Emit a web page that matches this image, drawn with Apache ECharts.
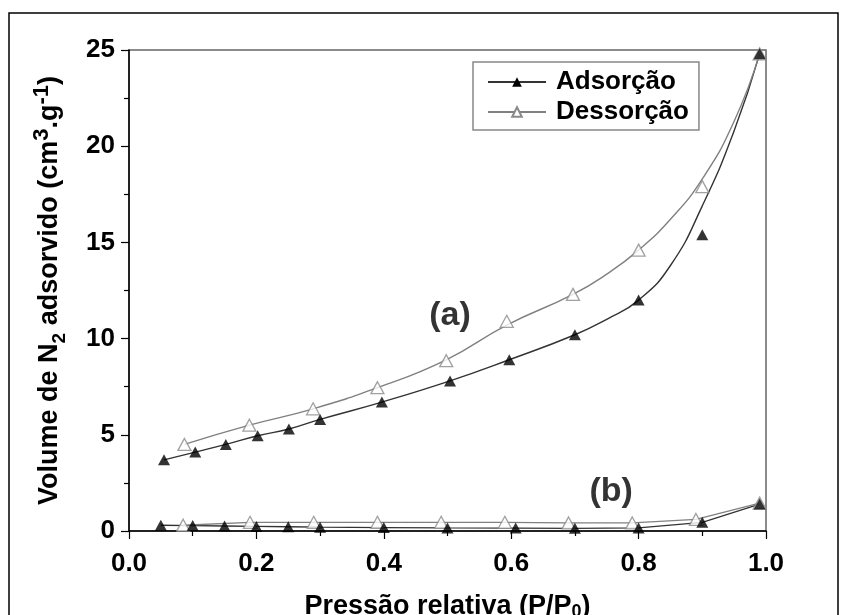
<!DOCTYPE html>
<html>
<head>
<meta charset="utf-8">
<script src="https://cdn.jsdelivr.net/npm/echarts@6/dist/echarts.min.js"></script>
<style>
  html, body { margin: 0; padding: 0; background: #fff; }
  #chart { width: 847px; height: 615px; }
</style>
</head>
<body>
<div id="chart"></div>
<script>
// amostra (a) - pontos medidos
const adsX = [0.055, 0.104, 0.152, 0.202, 0.251, 0.30, 0.397, 0.504, 0.597, 0.70, 0.80, 0.90, 0.99];
const adsY = [3.7, 4.1, 4.5, 4.95, 5.3, 5.8, 6.7, 7.8, 8.9, 10.2, 12.0, 15.4, 24.8];
const desX = [0.087, 0.189, 0.289, 0.39, 0.498, 0.593, 0.697, 0.80, 0.90, 0.99];
const desY = [4.5, 5.5, 6.35, 7.45, 8.85, 10.9, 12.3, 14.6, 17.9, 24.8];

// curvas ajustadas (a)
const adsCurveX = [0.055, 0.104, 0.152, 0.202, 0.251, 0.30, 0.397, 0.504, 0.597, 0.70, 0.75, 0.80, 0.85, 0.90, 0.95, 0.99];
const adsCurveY = [3.7, 4.1, 4.5, 4.95, 5.3, 5.8, 6.7, 7.8, 8.9, 10.2, 11.0, 12.0, 13.8, 16.9, 20.8, 24.8];
const desCurveX = [0.087, 0.189, 0.289, 0.39, 0.498, 0.593, 0.697, 0.75, 0.80, 0.85, 0.90, 0.95, 0.99];
const desCurveY = [4.5, 5.5, 6.35, 7.45, 8.9, 10.7, 12.3, 13.35, 14.6, 16.2, 18.3, 21.3, 24.8];

// amostra (b)
const adsBX = [0.05, 0.10, 0.15, 0.20, 0.25, 0.30, 0.40, 0.50, 0.607, 0.70, 0.80, 0.90, 0.99];
const adsBY = [0.3, 0.28, 0.26, 0.24, 0.22, 0.2, 0.18, 0.16, 0.15, 0.14, 0.16, 0.45, 1.4];
const desBX = [0.085, 0.19, 0.29, 0.39, 0.49, 0.59, 0.69, 0.79, 0.89, 0.99];
const desBY = [0.3, 0.45, 0.45, 0.45, 0.45, 0.45, 0.42, 0.42, 0.6, 1.45];

// rótulos das curvas
const notes = [[0.504, 11.2, '(a)'], [0.757, 2.05, '(b)']];

const xTicks = [0, 0.2, 0.4, 0.6, 0.8, 1.0];
const yTicks = [0, 5, 10, 15, 20, 25];

const pairs = (xs, ys) => xs.map((x, i) => [x, ys[i]]);
const FONT = 'Liberation Sans, Arial, sans-serif';

const darkLine = '#333';
const greyLine = '#808080';

const filledTri = { color: '#000' };
const openTri = { color: '#fff', borderColor: '#8a8a8a', borderWidth: 1.3 };

const myChart = echarts.init(document.getElementById('chart'));

const option = {
  animation: false,
  backgroundColor: '#fff',
  graphic: [{
    type: 'rect',
    shape: { x: 9, y: 13, width: 829, height: 640 },
    style: { fill: 'none', stroke: '#000', lineWidth: 1.5 },
    silent: true
  }],
  grid: {
    left: 129, right: 81, top: 50, bottom: 84,
    outerBoundsMode: 'none', containLabel: false,
    show: true, borderColor: '#666', borderWidth: 1.5
  },
  legend: {
    data: ['Adsorção', 'Dessorção'],
    orient: 'vertical',
    left: 473, top: 62,
    itemWidth: 58, itemHeight: 12, itemGap: 4,
    padding: [7, 10, 5, 14],
    borderColor: '#888', borderWidth: 1.5, backgroundColor: '#fff',
    textStyle: { fontFamily: FONT, fontSize: 26, fontWeight: 'bold', color: '#000', padding: [0, 0, 0, 5] }
  },
  xAxis: {
    type: 'value', min: 0, max: 1, interval: 0.2,
    name: 'Pressão relativa (P/P{sub|0})',
    nameLocation: 'middle', nameGap: 62,
    nameTextStyle: {
      fontFamily: FONT, fontSize: 27, fontWeight: 'bold', color: '#000',
      rich: { sub: { fontFamily: FONT, fontSize: 18, fontWeight: 'bold', color: '#000', verticalAlign: 'bottom', padding: [10, 0, 0, 0] } }
    },
    axisLine: { lineStyle: { color: '#000', width: 1.5 } },
    axisTick: { length: 8, lineStyle: { color: '#000', width: 1.2 } },
    minorTick: { show: true, splitNumber: 2, length: 5, lineStyle: { color: '#000', width: 1.2 } },
    splitLine: { show: false },
    axisLabel: {
      margin: 20, fontFamily: FONT, fontSize: 26, fontWeight: 'bold', color: '#000',
      formatter: v => xTicks.includes(+v.toFixed(1)) ? v.toFixed(1) : ''
    }
  },
  yAxis: {
    type: 'value', min: 0, max: 25, interval: 5,
    name: '{t|Volume de N}{sub|2}{t| adsorvido (cm}{sup|3}{t|.g}{sup|-1}{t|)}',
    nameLocation: 'middle', nameGap: 60,
    nameTextStyle: {
      rich: {
        t: { fontFamily: FONT, fontSize: 27, fontWeight: 'bold', color: '#000', lineHeight: 38 },
        sub: { fontFamily: FONT, fontSize: 19, fontWeight: 'bold', color: '#000', verticalAlign: 'bottom', lineHeight: 20 },
        sup: { fontFamily: FONT, fontSize: 22, fontWeight: 'bold', color: '#000', verticalAlign: 'top', lineHeight: 20 }
      }
    },
    axisLine: { lineStyle: { color: '#000', width: 1.5 } },
    axisTick: { length: 8, lineStyle: { color: '#000', width: 1.2 } },
    minorTick: { show: true, splitNumber: 2, length: 5, lineStyle: { color: '#000', width: 1.2 } },
    splitLine: { show: false },
    axisLabel: {
      margin: 14, fontFamily: FONT, fontSize: 26, fontWeight: 'bold', color: '#000',
      formatter: v => yTicks.includes(v) ? String(v) : ''
    }
  },
  series: [
    // curvas (a)
    {
      name: 'Adsorção', type: 'line', smooth: 0.5, symbol: 'triangle', symbolSize: [12, 11],
      showSymbol: false, data: pairs(adsCurveX, adsCurveY),
      lineStyle: { color: darkLine, width: 1.4 }, itemStyle: filledTri, z: 2
    },
    {
      name: 'Dessorção', type: 'line', smooth: 0.5, symbol: 'triangle', symbolSize: [12, 11],
      showSymbol: false, data: pairs(desCurveX, desCurveY),
      lineStyle: { color: greyLine, width: 1.4 }, itemStyle: openTri, z: 2
    },
    // curvas (b)
    {
      name: 'Adsorção', type: 'line', symbol: 'none', data: pairs(adsBX, adsBY),
      lineStyle: { color: darkLine, width: 1.3 }, z: 2
    },
    {
      name: 'Dessorção', type: 'line', symbol: 'none', data: pairs(desBX, desBY),
      lineStyle: { color: greyLine, width: 1.3 }, z: 2
    },
    // marcadores
    {
      name: 'Dessorção', type: 'scatter', symbol: 'triangle', symbolSize: [13, 12],
      data: pairs(desX, desY).concat(pairs(desBX, desBY)), itemStyle: openTri, z: 3
    },
    {
      name: 'Adsorção', type: 'scatter', symbol: 'triangle', symbolSize: [12, 11],
      data: pairs(adsX, adsY).concat(pairs(adsBX, adsBY)), itemStyle: filledTri, z: 4
    },
    {
      type: 'scatter', symbolSize: 1, silent: true, data: notes,
      itemStyle: { color: 'rgba(0,0,0,0)' },
      label: {
        show: true, position: 'inside', formatter: p => p.data[2],
        fontFamily: FONT, fontSize: 34, fontWeight: 'bold', color: '#000'
      }
    }
  ]
};

myChart.setOption(option);
</script>
</body>
</html>
